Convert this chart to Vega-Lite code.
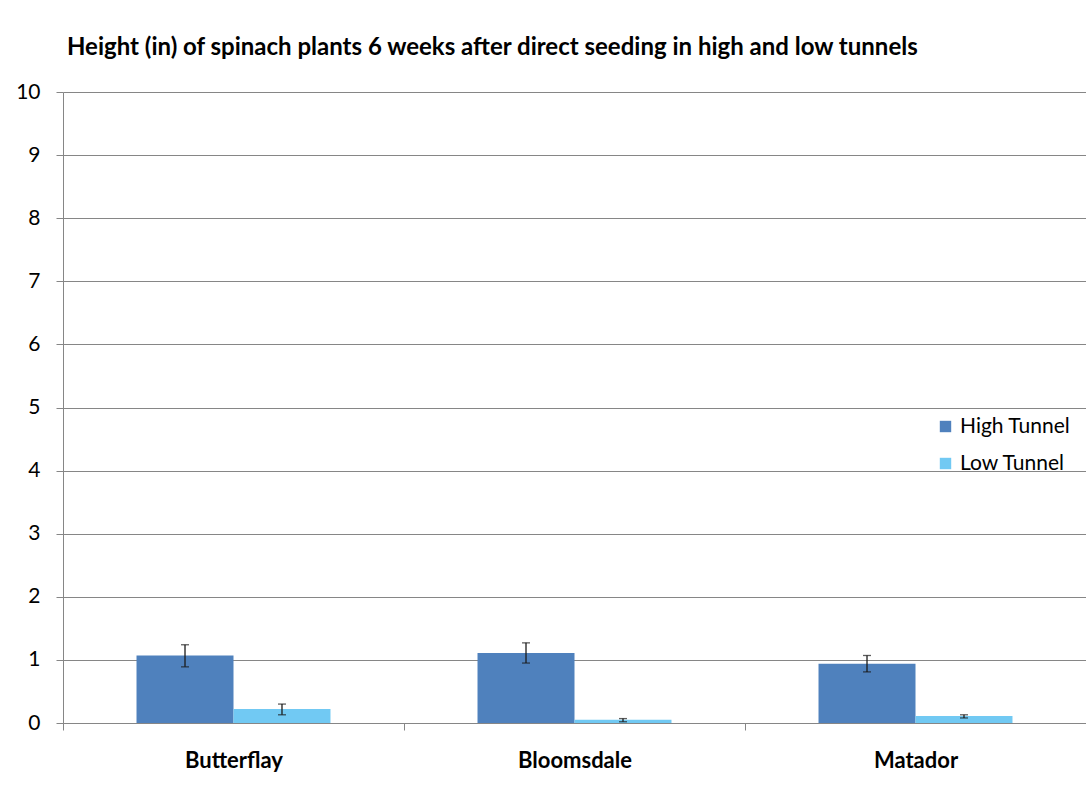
{
  "$schema": "https://vega.github.io/schema/vega-lite/v6.json",
  "width": 1023,
  "height": 631,
  "autosize": "none",
  "padding": {"left": 63, "top": 92, "right": 0, "bottom": 74},
  "background": "white",
  "title": {
    "text": "Height (in) of spinach plants 6 weeks after direct seeding in high and low tunnels",
    "anchor": "start",
    "frame": "group",
    "dx": 4,
    "offset": 21,
    "font": "Lato",
    "fontSize": 24,
    "fontWeight": "bold",
    "color": "#000000"
  },
  "data": {
    "values": [
      {"variety": "Butterflay", "tunnel": "High Tunnel", "height": 1.07, "lo": 0.89, "hi": 1.24},
      {"variety": "Butterflay", "tunnel": "Low Tunnel", "height": 0.22, "lo": 0.13, "hi": 0.30},
      {"variety": "Bloomsdale", "tunnel": "High Tunnel", "height": 1.11, "lo": 0.95, "hi": 1.27},
      {"variety": "Bloomsdale", "tunnel": "Low Tunnel", "height": 0.05, "lo": 0.02, "hi": 0.07},
      {"variety": "Matador", "tunnel": "High Tunnel", "height": 0.94, "lo": 0.81, "hi": 1.07},
      {"variety": "Matador", "tunnel": "Low Tunnel", "height": 0.11, "lo": 0.08, "hi": 0.13}
    ]
  },
  "encoding": {
    "x": {
      "field": "variety",
      "type": "nominal",
      "sort": ["Butterflay", "Bloomsdale", "Matador"],
      "scale": {"paddingInner": 0, "paddingOuter": 0},
      "axis": {
        "title": null,
        "labelAngle": 0,
        "tickBand": "extent",
        "tickSize": 7,
        "tickColor": "#868686",
        "domainColor": "#868686",
        "labelFont": "Lato",
        "labelFontSize": 22,
        "labelFontWeight": "bold",
        "labelColor": "#000000",
        "labelPadding": 20
      }
    },
    "xOffset": {
      "field": "tunnel",
      "type": "nominal",
      "scale": {"paddingInner": 0, "paddingOuter": 0.758}
    }
  },
  "layer": [
    {
      "mark": {"type": "bar"},
      "encoding": {
        "y": {
          "field": "height",
          "type": "quantitative",
          "scale": {"domain": [0, 10], "nice": false},
          "axis": {
            "title": null,
            "values": [0, 1, 2, 3, 4, 5, 6, 7, 8, 9, 10],
            "format": "d",
            "grid": true,
            "gridColor": "#868686",
            "gridOpacity": 1,
            "gridWidth": 1,
            "tickSize": 7,
            "tickColor": "#868686",
            "domainColor": "#868686",
            "labelFont": "Lato",
            "labelFontSize": 21,
            "labelColor": "#000000",
            "labelPadding": 16
          }
        },
        "color": {
          "field": "tunnel",
          "type": "nominal",
          "scale": {"domain": ["High Tunnel", "Low Tunnel"], "range": ["#4F81BD", "#71C9F3"]},
          "legend": {
            "title": null,
            "orient": "none",
            "legendX": 872,
            "legendY": 324,
            "symbolType": "square",
            "symbolSize": 130,
            "symbolStrokeWidth": 0,
            "symbolOpacity": 1,
            "labelFont": "Lato",
            "labelFontSize": 21,
            "labelColor": "#000000",
            "rowPadding": 15,
            "labelOffset": 4
          }
        }
      }
    },
    {
      "mark": {"type": "rule", "color": "#1a1a1a", "strokeWidth": 1.3},
      "encoding": {
        "y": {"field": "lo", "type": "quantitative"},
        "y2": {"field": "hi"}
      }
    },
    {
      "mark": {"type": "tick", "color": "#1a1a1a", "size": 8, "thickness": 1.3},
      "encoding": {
        "y": {"field": "lo", "type": "quantitative"}
      }
    },
    {
      "mark": {"type": "tick", "color": "#1a1a1a", "size": 8, "thickness": 1.3},
      "encoding": {
        "y": {"field": "hi", "type": "quantitative"}
      }
    }
  ],
  "config": {
    "view": {"stroke": null},
    "axis": {"grid": false}
  }
}
